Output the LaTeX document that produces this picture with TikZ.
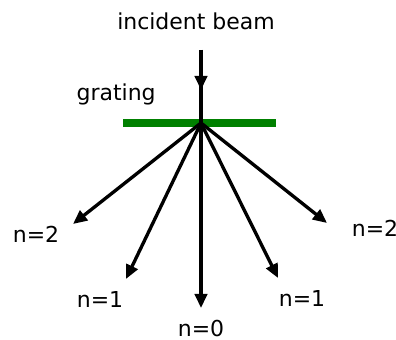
\documentclass[tikz,border=0pt]{standalone}
\usepackage{fontspec}
\setmainfont{DejaVu Sans}
\usetikzlibrary{arrows.meta}
\definecolor{gratinggreen}{RGB}{0,128,0}
\tikzset{ray/.style={
    line width=1.9pt,
    -{Triangle[length=8pt,width=7pt]}
  },
  plainray/.style={line width=1.9pt},
  gbar/.style={line width=4pt,draw=gratinggreen},
  lbl/.style={font=\fontsize{12.5}{15}\selectfont,inner sep=0pt,anchor=base},
}

\begin{document}
\begin{tikzpicture}[x=0.02cm,y=-0.02cm]
  \useasboundingbox (0,0) rectangle (396,340);
  \node[lbl] (beam) at (196,30) {incident beam};
  \node[lbl,anchor=base east] (grating) at (156,101) {grating};
  \coordinate (src) at (201,50);
  \coordinate (mid) at (201,90);
  \coordinate (hit) at (201,123);
  \coordinate (gl) at (123,123);
  \coordinate (gr) at (276,123);
  \coordinate (m2l) at (73,224);
  \coordinate (m1l) at (126,279);
  \coordinate (m0) at (201,308);
  \coordinate (m1r) at (278,278);
  \coordinate (m2r) at (327,223);
  \draw[gbar] (gl) -- (gr);
  \draw[plainray] (src) -- (hit);
  \draw[ray] (src) -- (mid);
  % diffracted orders
  \foreach \t in {m2l,m1l,m0,m1r,m2r}
    \draw[ray] (hit) -- (\t);
  \node[lbl] (n2l) at (36,243) {n=2};
  \node[lbl] (n1l) at (100,308) {n=1};
  \node[lbl] (n0) at (201,337) {n=0};
  \node[lbl] (n1r) at (302,307) {n=1};
  \node[lbl] (n2r) at (375,237) {n=2};
\end{tikzpicture}
\end{document}
